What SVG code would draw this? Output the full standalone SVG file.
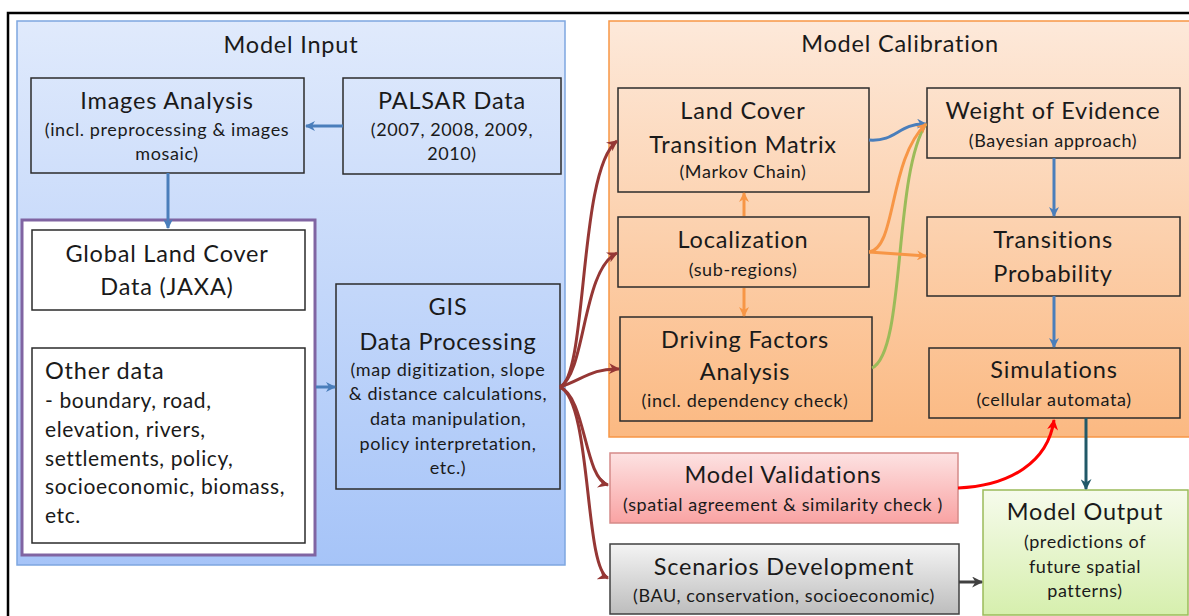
<svg xmlns="http://www.w3.org/2000/svg" width="1189" height="616" viewBox="0 0 1189 616">
<defs>
<linearGradient id="gBlue" x1="0" y1="0" x2="0" y2="1"><stop offset="0" stop-color="#e0eafc"/><stop offset="1" stop-color="#a6c4f8"/></linearGradient>
<linearGradient id="gOrange" x1="0" y1="0" x2="0" y2="1"><stop offset="0" stop-color="#fde9da"/><stop offset="1" stop-color="#fbb982"/></linearGradient>
<linearGradient id="gPink" x1="0" y1="0" x2="0" y2="1"><stop offset="0" stop-color="#fde2e2"/><stop offset="1" stop-color="#f9a3a3"/></linearGradient>
<linearGradient id="gGrey" x1="0" y1="0" x2="0" y2="1"><stop offset="0" stop-color="#f4f4f4"/><stop offset="1" stop-color="#bdbdbd"/></linearGradient>
<linearGradient id="gGreen" x1="0" y1="0" x2="0" y2="1"><stop offset="0" stop-color="#f6fbec"/><stop offset="1" stop-color="#d6efad"/></linearGradient>
<marker id="aBlue" viewBox="0 0 10 10" refX="9" refY="5" markerWidth="10" markerHeight="10" markerUnits="userSpaceOnUse" orient="auto"><path d="M0,0 L10,5 L0,10 L3,5 z" fill="#4a7ebb"/></marker>
<marker id="aOrange" viewBox="0 0 10 10" refX="9" refY="5" markerWidth="10" markerHeight="10" markerUnits="userSpaceOnUse" orient="auto"><path d="M0,0 L10,5 L0,10 L3,5 z" fill="#f79646"/></marker>
<marker id="aDRed" viewBox="0 0 10 10" refX="9" refY="5" markerWidth="11" markerHeight="11" markerUnits="userSpaceOnUse" orient="auto"><path d="M0,0 L10,5 L0,10 L3,5 z" fill="#953735"/></marker>
<marker id="aRed" viewBox="0 0 10 10" refX="9" refY="5" markerWidth="11" markerHeight="11" markerUnits="userSpaceOnUse" orient="auto"><path d="M0,0 L10,5 L0,10 L3,5 z" fill="#ff0000"/></marker>
<marker id="aTeal" viewBox="0 0 10 10" refX="9" refY="5" markerWidth="11" markerHeight="11" markerUnits="userSpaceOnUse" orient="auto"><path d="M0,0 L10,5 L0,10 L3,5 z" fill="#215968"/></marker>
<marker id="aGrey" viewBox="0 0 10 10" refX="9" refY="5" markerWidth="11" markerHeight="11" markerUnits="userSpaceOnUse" orient="auto"><path d="M0,0 L10,5 L0,10 L3,5 z" fill="#404040"/></marker>
</defs>
<style>
text{font-family:Lato,"Liberation Sans",sans-serif;fill:#1a1a1a;text-anchor:middle}
.t{font-size:23.5px;letter-spacing:0.8px}
.s{font-size:18px;letter-spacing:0.6px}
.l{font-size:21px;letter-spacing:0.6px;text-anchor:start}
.lt{font-size:23.5px;letter-spacing:0.8px;text-anchor:start}
.box{fill:none;stroke:#2b2b2b;stroke-width:1.5}
.wbox{fill:#fff;stroke:#2b2b2b;stroke-width:1.5}
.c{fill:none;stroke-width:3}
.blue{stroke:#4a7ebb}
.orange{stroke:#f79646}
.dred{stroke:#953735}
</style>
<rect width="1189" height="616" fill="#fff"/>
<path d="M8,616 L8,13 L1189,13" fill="none" stroke="#000" stroke-width="2.5"/>

<g id="model-input">
<rect x="17" y="21" width="548" height="544" fill="url(#gBlue)" stroke="#7ea6e0" stroke-width="1.5"/>
<text class="t" x="291" y="53">Model Input</text>
</g>
<g id="model-calibration">
<rect x="609" y="21" width="590" height="416" fill="url(#gOrange)" stroke="#f79646" stroke-width="1.5"/>
<text class="t" x="900" y="52">Model Calibration</text>
</g>

<g id="images-analysis">
<rect class="box" x="31" y="78" width="273" height="95"/>
<text class="t" x="167" y="109">Images Analysis</text>
<text class="s" x="167" y="136">(incl. preprocessing &amp; images</text>
<text class="s" x="167" y="160">mosaic)</text>
</g>
<g id="palsar-data">
<rect class="box" x="343" y="78" width="218" height="96"/>
<text class="t" x="452" y="109">PALSAR Data</text>
<text class="s" x="452" y="136">(2007, 2008, 2009,</text>
<text class="s" x="452" y="160">2010)</text>
</g>
<g id="data-group">
<rect x="22" y="220" width="293" height="335" fill="#fff" stroke="#8064a2" stroke-width="3"/>
</g>
<g id="global-land-cover">
<rect class="wbox" x="32" y="230" width="273" height="80"/>
<text class="t" x="167" y="262">Global Land Cover</text>
<text class="t" x="167" y="295">Data (JAXA)</text>
</g>
<g id="other-data">
<rect class="wbox" x="32" y="348" width="273" height="195"/>
<text class="lt" x="45" y="379">Other data</text>
<text class="l" x="45" y="408">- boundary, road,</text>
<text class="l" x="45" y="437">elevation, rivers,</text>
<text class="l" x="45" y="466">settlements, policy,</text>
<text class="l" x="45" y="494">socioeconomic, biomass,</text>
<text class="l" x="45" y="523">etc.</text>
</g>
<g id="gis">
<rect class="box" x="336" y="284" width="224" height="205"/>
<text class="t" x="448" y="315">GIS</text>
<text class="t" x="448" y="350">Data Processing</text>
<text class="s" x="448" y="376">(map digitization, slope</text>
<text class="s" x="448" y="400">&amp; distance calculations,</text>
<text class="s" x="448" y="425">data manipulation,</text>
<text class="s" x="448" y="450">policy interpretation,</text>
<text class="s" x="448" y="474">etc.)</text>
</g>

<g id="land-cover-transition-matrix">
<rect class="box" x="618" y="88" width="251" height="104"/>
<text class="t" x="743" y="119">Land Cover</text>
<text class="t" x="743" y="153">Transition Matrix</text>
<text class="s" x="743" y="178">(Markov Chain)</text>
</g>
<g id="weight-of-evidence">
<rect class="box" x="927" y="88" width="253" height="70"/>
<text class="t" x="1053" y="119">Weight of Evidence</text>
<text class="s" x="1053" y="147">(Bayesian approach)</text>
</g>
<g id="localization">
<rect class="box" x="618" y="217" width="251" height="70"/>
<text class="t" x="743" y="248">Localization</text>
<text class="s" x="743" y="276">(sub-regions)</text>
</g>
<g id="transitions-probability">
<rect class="box" x="927" y="217" width="253" height="79"/>
<text class="t" x="1053" y="248">Transitions</text>
<text class="t" x="1053" y="282">Probability</text>
</g>
<g id="driving-factors">
<rect class="box" x="620" y="317" width="252" height="104"/>
<text class="t" x="745" y="348">Driving Factors</text>
<text class="t" x="745" y="380">Analysis</text>
<text class="s" x="745" y="407">(incl. dependency check)</text>
</g>
<g id="simulations">
<rect class="box" x="929" y="348" width="251" height="70"/>
<text class="t" x="1054" y="378">Simulations</text>
<text class="s" x="1054" y="406">(cellular automata)</text>
</g>
<g id="model-validations">
<rect x="610" y="453" width="348" height="70" fill="url(#gPink)" stroke="#d58b89" stroke-width="1.5"/>
<text class="t" x="783" y="483">Model Validations</text>
<text class="s" x="783" y="511">(spatial agreement &amp; similarity check )</text>
</g>
<g id="scenarios-development">
<rect x="610" y="544" width="349" height="70" fill="url(#gGrey)" stroke="#404040" stroke-width="1.5"/>
<text class="t" x="784" y="575">Scenarios Development</text>
<text class="s" x="784" y="602">(BAU, conservation, socioeconomic)</text>
</g>
<g id="model-output">
<rect x="983" y="490" width="205" height="125" fill="url(#gGreen)" stroke="#9bbb59" stroke-width="1.5"/>
<text class="t" x="1085" y="520">Model Output</text>
<text class="s" x="1085" y="548">(predictions of</text>
<text class="s" x="1085" y="573">future spatial</text>
<text class="s" x="1085" y="597">patterns)</text>
</g>

<g id="connectors">
<path class="c blue" d="M343,126 L306,126" marker-end="url(#aBlue)"/>
<path class="c blue" d="M168,173 L168,228" marker-end="url(#aBlue)"/>
<path class="c blue" d="M316,387 L335,387" stroke-width="2" marker-end="url(#aBlue)"/>
<path class="c dred" d="M560,387 C588,375 578,170 617,141" marker-end="url(#aDRed)"/>
<path class="c dred" d="M560,387 C586,372 582,270 617,253" marker-end="url(#aDRed)"/>
<path class="c dred" d="M560,387 C582,380 592,368 619,369" marker-end="url(#aDRed)"/>
<path class="c dred" d="M560,387 C586,398 584,478 608,485" marker-end="url(#aDRed)"/>
<path class="c dred" d="M560,387 C592,402 584,568 608,578" marker-end="url(#aDRed)"/>
<path class="c blue" d="M869,140 C897,142 898,123 926,124" marker-end="url(#aBlue)"/>
<path class="c orange" d="M744,216 L744,193" marker-end="url(#aOrange)"/>
<path class="c orange" d="M744,288 L744,316" marker-end="url(#aOrange)"/>
<path class="c" stroke="#9bbb59" d="M872,368 C906,352 893,175 926,124"/>
<path class="c orange" d="M869,252 C897,248 888,160 926,124" marker-end="url(#aOrange)"/>
<path class="c orange" d="M869,252 L926,256" marker-end="url(#aOrange)"/>
<path class="c blue" d="M1054,158 L1054,216" marker-end="url(#aBlue)"/>
<path class="c blue" d="M1054,296 L1054,347" marker-end="url(#aBlue)"/>
<path class="c" stroke="#215968" d="M1086,418 L1086,489" marker-end="url(#aTeal)"/>
<path class="c" stroke="#ff0000" d="M958,488 C1010,486 1048,462 1054,420" marker-end="url(#aRed)"/>
<path class="c" stroke="#404040" d="M959,582 L982,582" marker-end="url(#aGrey)"/>
</g>
</svg>
